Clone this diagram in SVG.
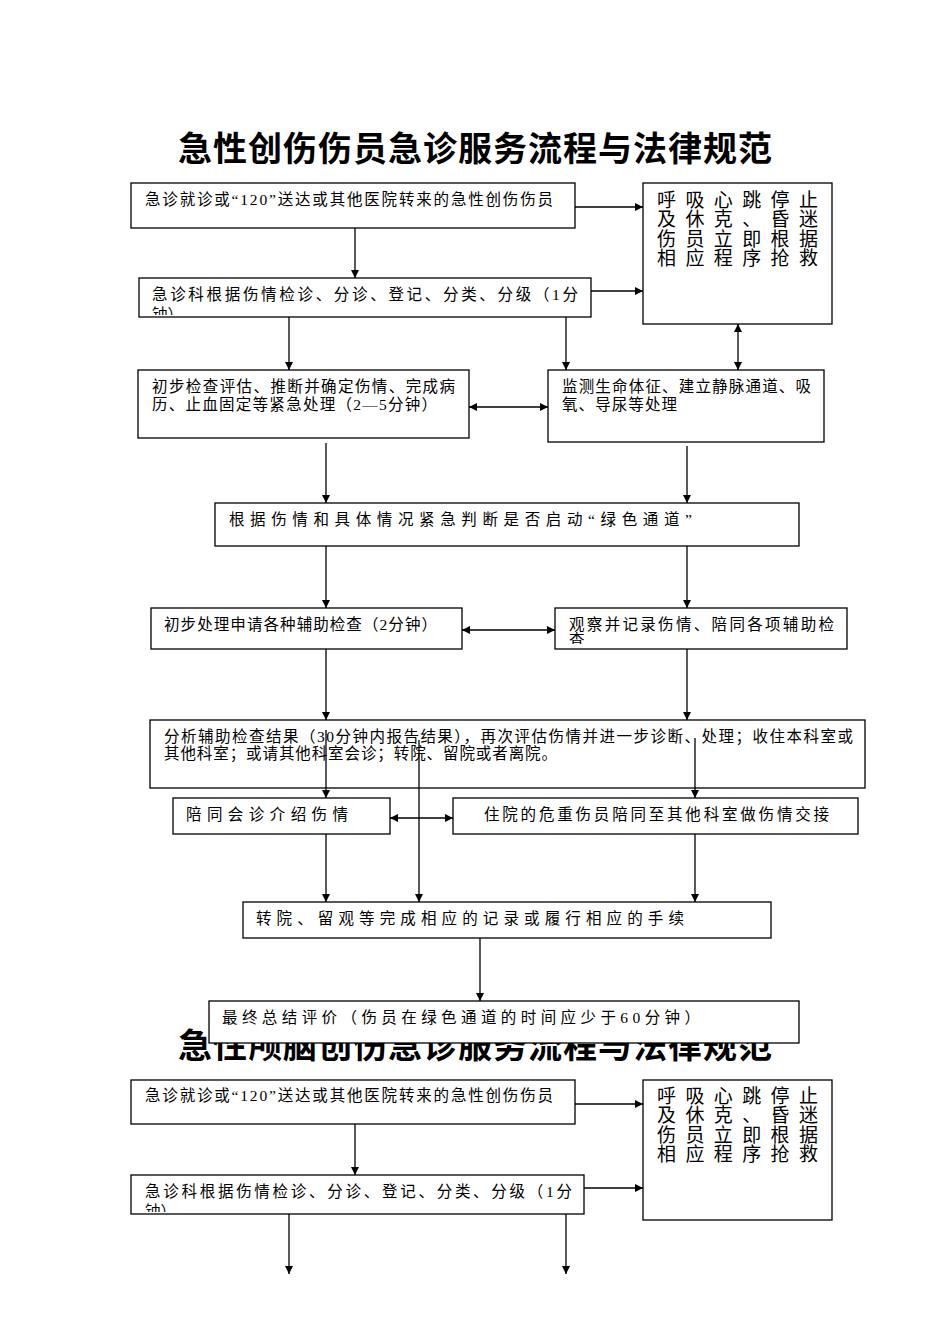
<svg xmlns="http://www.w3.org/2000/svg" width="950" height="1344" viewBox="0 0 950 1344">
  <style>
    .box { fill: #ffffff; stroke: #000000; stroke-width: 1.3; }
    .t { font-family: "Liberation Serif", "Noto Sans CJK SC", serif; font-size: 15.5px; fill: #000000; }
    .big { font-family: "Liberation Serif", "Noto Sans CJK SC", serif; font-size: 19px; fill: #000000; }
    .title { font-family: "Noto Sans CJK SC", "Liberation Sans", sans-serif; font-size: 34px; font-weight: bold; fill: #000000; }
    .link { fill: none; stroke: #000000; stroke-width: 1.3; marker-end: url(#ah); }
    .both { marker-start: url(#ah); }
  </style>
  <defs>
    <marker id="ah" viewBox="0 0 10 10" refX="10" refY="5" markerWidth="9" markerHeight="8" markerUnits="userSpaceOnUse" orient="auto-start-reverse">
      <path d="M0,0 L10,5 L0,10 z" fill="#000000"/>
    </marker>
    <clipPath id="clipB"><rect x="140" y="279" width="450" height="36"/></clipPath>
    <clipPath id="clipG"><rect x="556" y="609" width="290" height="35"/></clipPath>
    <clipPath id="clipB2"><rect x="132" y="1176" width="451" height="36"/></clipPath>
  </defs>

  <rect width="950" height="1344" fill="#ffffff"/>

  <!-- first flow chart -->
  <text id="title1" class="title" x="178" y="161" textLength="594" lengthAdjust="spacing">急性创伤伤员急诊服务流程与法律规范</text>

  <g id="arrival">
    <rect class="box" x="131" y="183" width="444" height="45"/>
    <text class="t" x="145" y="205" textLength="408" lengthAdjust="spacing">急诊就诊或“120”送达或其他医院转来的急性创伤伤员</text>
  </g>

  <g id="rescue">
    <rect class="box" x="643" y="183" width="189" height="141"/>
    <text class="big" x="657" y="207" textLength="161" lengthAdjust="spacing">呼吸心跳停止</text>
    <text class="big" x="657" y="226" textLength="161" lengthAdjust="spacing">及休克、昏迷</text>
    <text class="big" x="657" y="246" textLength="161" lengthAdjust="spacing">伤员立即根据</text>
    <text class="big" x="657" y="265" textLength="161" lengthAdjust="spacing">相应程序抢救</text>
  </g>

  <g id="triage">
    <rect class="box" x="139" y="278" width="452" height="39"/>
    <g clip-path="url(#clipB)">
      <text class="t" x="152" y="300" textLength="426" lengthAdjust="spacing">急诊科根据伤情检诊、分诊、登记、分类、分级（1分</text>
      <text class="t" x="152" y="320">钟）</text>
    </g>
  </g>

  <g id="initial-check">
    <rect class="box" x="138" y="370" width="331" height="68"/>
    <text class="t" x="152" y="392" textLength="303" lengthAdjust="spacing">初步检查评估、推断并确定伤情、完成病</text>
    <text class="t" x="152" y="410" textLength="285" lengthAdjust="spacing">历、止血固定等紧急处理（2—5分钟）</text>
  </g>

  <g id="monitor">
    <rect class="box" x="548" y="370" width="276" height="72"/>
    <text class="t" x="562" y="392" textLength="249" lengthAdjust="spacing">监测生命体征、建立静脉通道、吸</text>
    <text class="t" x="562" y="410" textLength="115" lengthAdjust="spacing">氧、导尿等处理</text>
  </g>

  <g id="green-channel">
    <rect class="box" x="215" y="503" width="584" height="43"/>
    <text class="t" x="229" y="525" textLength="463" lengthAdjust="spacing">根据伤情和具体情况紧急判断是否启动“绿色通道”</text>
  </g>

  <g id="aux-exam">
    <rect class="box" x="151" y="608" width="311" height="41"/>
    <text class="t" x="164" y="630" textLength="273" lengthAdjust="spacing">初步处理申请各种辅助检查（2分钟）</text>
  </g>

  <g id="observe">
    <rect class="box" x="555" y="608" width="292" height="41"/>
    <g clip-path="url(#clipG)">
      <text class="t" x="569" y="630" textLength="265" lengthAdjust="spacing">观察并记录伤情、陪同各项辅助检</text>
      <text class="t" x="569" y="646">查</text>
    </g>
  </g>

  <g id="analysis">
    <rect class="box" x="150" y="720" width="715" height="68"/>
    <text class="t" x="164" y="742" textLength="689" lengthAdjust="spacing">分析辅助检查结果（30分钟内报告结果），再次评估伤情并进一步诊断、处理；收住本科室或</text>
    <text class="t" x="164" y="759" textLength="393" lengthAdjust="spacing">其他科室；或请其他科室会诊；转院、留院或者离院。</text>
  </g>

  <g id="consult">
    <rect class="box" x="173" y="798" width="217" height="36"/>
    <text class="t" x="186" y="820" textLength="162" lengthAdjust="spacing">陪同会诊介绍伤情</text>
  </g>

  <g id="handover">
    <rect class="box" x="453" y="798" width="405" height="36"/>
    <text class="t" x="484" y="820" textLength="345" lengthAdjust="spacing">住院的危重伤员陪同至其他科室做伤情交接</text>
  </g>

  <g id="formalities">
    <rect class="box" x="243" y="902" width="528" height="36"/>
    <text class="t" x="256" y="924" textLength="428" lengthAdjust="spacing">转院、留观等完成相应的记录或履行相应的手续</text>
  </g>

  <!-- second chart heading sits under the final box -->
  <text id="title2" class="title" x="178" y="1058" textLength="594" lengthAdjust="spacing">急性颅脑创伤急诊服务流程与法律规范</text>

  <g id="final-review">
    <rect class="box" x="209" y="1001" width="590" height="42"/>
    <text class="t" x="222" y="1023" textLength="478" lengthAdjust="spacing">最终总结评价（伤员在绿色通道的时间应少于60分钟）</text>
  </g>

  <!-- second flow chart -->
  <g id="arrival-2">
    <rect class="box" x="131" y="1080" width="444" height="44"/>
    <text class="t" x="145" y="1101" textLength="408" lengthAdjust="spacing">急诊就诊或“120”送达或其他医院转来的急性创伤伤员</text>
  </g>

  <g id="rescue-2">
    <rect class="box" x="643" y="1080" width="189" height="140"/>
    <text class="big" x="657" y="1103" textLength="161" lengthAdjust="spacing">呼吸心跳停止</text>
    <text class="big" x="657" y="1122" textLength="161" lengthAdjust="spacing">及休克、昏迷</text>
    <text class="big" x="657" y="1142" textLength="161" lengthAdjust="spacing">伤员立即根据</text>
    <text class="big" x="657" y="1161" textLength="161" lengthAdjust="spacing">相应程序抢救</text>
  </g>

  <g id="triage-2">
    <rect class="box" x="131" y="1175" width="453" height="39"/>
    <g clip-path="url(#clipB2)">
      <text class="t" x="145" y="1197" textLength="427" lengthAdjust="spacing">急诊科根据伤情检诊、分诊、登记、分类、分级（1分</text>
      <text class="t" x="145" y="1217">钟）</text>
    </g>
  </g>

  <g id="connectors">
    <path class="link" d="M575,207 H643"/>
    <path class="link" d="M355,228 V278"/>
    <path class="link" d="M591,291 H643"/>
    <path class="link" d="M289,317 V370"/>
    <path class="link" d="M566,317 V370"/>
    <path class="link both" d="M738,324 V370"/>
    <path class="link both" d="M469,407 H548"/>
    <path class="link" d="M326,443 V503"/>
    <path class="link" d="M687,446 V503"/>
    <path class="link" d="M326,546 V608"/>
    <path class="link" d="M687,546 V608"/>
    <path class="link both" d="M462,630 H555"/>
    <path class="link" d="M326,649 V720"/>
    <path class="link" d="M687,649 V720"/>
    <path class="link" d="M326,730 V798"/>
    <path class="link" d="M419,740 V902"/>
    <path class="link" d="M695,738 V798"/>
    <path class="link both" d="M390,818 H453"/>
    <path class="link" d="M326,834 V902"/>
    <path class="link" d="M695,834 V902"/>
    <path class="link" d="M480,938 V1001"/>
    <path class="link" d="M575,1104 H643"/>
    <path class="link" d="M355,1124 V1175"/>
    <path class="link" d="M584,1188 H643"/>
    <path class="link" d="M289,1214 V1274"/>
    <path class="link" d="M566,1214 V1274"/>
  </g>
</svg>
